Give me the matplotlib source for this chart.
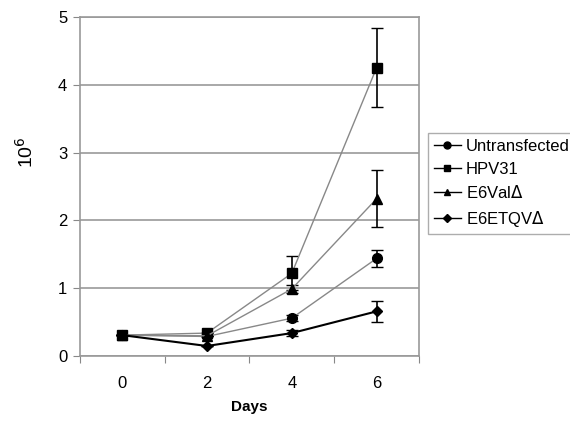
import numpy as np
import matplotlib.pyplot as plt
from matplotlib.lines import Line2D

plt.rcParams['font.family'] = ['Liberation Sans', 'DejaVu Sans']

# data
days = ['0', '2', '4', '6']
series = ['Untransfected', 'HPV31', 'E6Val$\\Delta$', 'E6ETQV$\\Delta$']
untransfected = [0.31, 0.29, 0.56, 1.44]
untransfected_err = [0, 0, 0.04, 0.12]
hpv31 = [0.31, 0.34, 1.22, 4.25]
hpv31_err = [0, 0, 0.25, 0.58]
e6val = [0.31, 0.30, 0.99, 2.32]
e6val_err = [0, 0, 0.06, 0.42]
e6etqv = [0.31, 0.15, 0.34, 0.66]
e6etqv_err = [0, 0, 0.05, 0.16]

x = np.arange(len(days))
grey = '#888888'

fig = plt.figure(figsize=(5.7, 4.23), dpi=100)
ax = fig.add_axes([0.140, 0.158, 0.595, 0.802])

ax.errorbar(x, untransfected, yerr=untransfected_err, color=grey, lw=1.0, marker='o', ms=7,
            mfc='black', mec='black', ecolor='black', elinewidth=1.2, capsize=4)
ax.errorbar(x, hpv31, yerr=hpv31_err, color=grey, lw=1.0, marker='s', ms=7,
            mfc='black', mec='black', ecolor='black', elinewidth=1.2, capsize=4)
ax.errorbar(x, e6val, yerr=e6val_err, color=grey, lw=1.0, marker='^', ms=7,
            mfc='black', mec='black', ecolor='black', elinewidth=1.2, capsize=4)
ax.errorbar(x, e6etqv, yerr=e6etqv_err, color='black', lw=1.5, marker='D', ms=5,
            mfc='black', mec='black', ecolor='black', elinewidth=1.2, capsize=4)

ax.set_xlim(-0.5, 3.5)
ax.set_ylim(0, 5)
ax.set_yticks([0, 1, 2, 3, 4, 5])
ax.yaxis.grid(True, color='#999999', lw=1.2)
ax.set_axisbelow(True)

# category axis: ticks on boundaries, labels in the middle
ax.set_xticks(np.arange(-0.5, 4, 1))
ax.set_xticklabels([])
ax.set_xticks(x, minor=True)
ax.set_xticklabels(days, minor=True)
ax.tick_params(axis='x', which='minor', length=0, pad=14, labelsize=12)
ax.tick_params(axis='x', which='major', length=5, color=grey)
ax.tick_params(axis='y', length=5, color=grey, labelsize=12, pad=4)

for s in ax.spines.values():
    s.set_color('#999999')
    s.set_linewidth(1.2)

ax.set_xlabel('Days', fontweight='bold', fontsize=11, labelpad=7)
fig.text(0.045, 0.64, '10$^{6}$', rotation=90, fontsize=14, ha='center', va='center')

mk = ['o', 's', '^', 'D']
hs = [Line2D([], [], color='black', lw=1.0, marker=m, ms=5 if m != 'D' else 4) for m in mk]
leg = fig.legend(hs, series, loc='upper left', bbox_to_anchor=(0.751, 0.685),
                 frameon=True, fancybox=False, edgecolor='#999999', fontsize=12,
                 handlelength=1.6, handletextpad=0.3, borderpad=0.35, labelspacing=0.45,
                 borderaxespad=0)
leg.get_frame().set_linewidth(1.0)

fig.savefig('out.png', dpi=100)
